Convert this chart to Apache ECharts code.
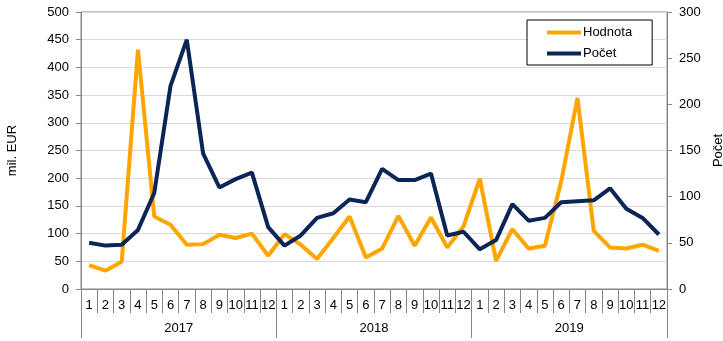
<!DOCTYPE html>
<html>
<head>
<meta charset="utf-8">
<script src="https://cdn.jsdelivr.net/npm/echarts@6/dist/echarts.min.js"></script>
<style>
html,body{margin:0;padding:0;background:#fff;}
#chart{width:723px;height:341px;}
</style>
</head>
<body>
<div id="chart"></div>
<script>
const months = ['1','2','3','4','5','6','7','8','9','10','11','12','1','2','3','4','5','6','7','8','9','10','11','12','1','2','3','4','5','6','7','8','9','10','11','12'];
const years = ['2017','2018','2019'];
const hodnota = [43,33,49,432,131,116,80,81,98,92,100,60,
                 99,80,54,92,131,57,73,132,78,129,75,113,
                 199,51,108,73,78,194,345,105,75,73,80,69];
const pocet = [50,47,48,64,104,220,270,147,110,119,126,67,
               47,58,77,82,97,94,130,118,118,125,58,62,
               43,53,92,74,77,94,95,96,109,87,77,59];
const leftTicks = {min:0, max:500, interval:50};
const rightTicks = {min:0, max:300, interval:50};

const font = 'Liberation Sans, Arial, sans-serif';
const axisGray = '#868686';
const chart = echarts.init(document.getElementById('chart'));
chart.setOption({
  animation:false,
  textStyle:{fontFamily:font},
  grid:{left:81,right:56,top:12,bottom:52,show:true,borderColor:axisGray,borderWidth:1,
        containLabel:false,outerBoundsMode:'none'},
  legend:{
    orient:'vertical', left:527, top:20,
    padding:[6,20,5,20], itemGap:8, itemWidth:34, itemHeight:4,
    icon:'rect',
    borderColor:'#000', borderWidth:1, backgroundColor:'#fff',
    textStyle:{fontFamily:font,fontSize:13,color:'#000',padding:[0,0,0,-3]},
    data:['Hodnota','Počet']
  },
  xAxis:[
    {type:'category',data:months,position:'bottom',boundaryGap:true,
     axisLine:{show:true,lineStyle:{color:axisGray}},
     axisTick:{show:true,interval:0,length:24,lineStyle:{color:axisGray}},
     axisLabel:{interval:0,margin:10,fontSize:13,color:'#000',fontFamily:font}},
    {type:'category',data:years,position:'bottom',boundaryGap:true,
     axisLine:{show:true,lineStyle:{color:axisGray}},
     axisTick:{show:true,interval:0,length:49,lineStyle:{color:axisGray}},
     axisLabel:{interval:0,margin:33,fontSize:13,color:'#000',fontFamily:font}}
  ],
  yAxis:[
    {type:'value',position:'left',min:leftTicks.min,max:leftTicks.max,interval:leftTicks.interval,
     name:'mil. EUR',nameLocation:'middle',nameGap:62,nameRotate:90,
     nameTextStyle:{fontSize:13,color:'#000',fontFamily:font},
     axisLine:{show:true,lineStyle:{color:axisGray}},
     axisTick:{show:true,length:5,lineStyle:{color:axisGray}},
     axisLabel:{margin:12,fontSize:13,color:'#000',fontFamily:font},
     splitLine:{show:true,lineStyle:{color:'#d9d9d9',width:1}}},
    {type:'value',position:'right',min:rightTicks.min,max:rightTicks.max,interval:rightTicks.interval,
     name:'Počet',nameLocation:'middle',nameGap:40,nameRotate:90,
     nameTextStyle:{fontSize:13,color:'#000',fontFamily:font},
     axisLine:{show:true,lineStyle:{color:axisGray}},
     axisTick:{show:true,length:5,lineStyle:{color:axisGray}},
     axisLabel:{margin:12,fontSize:13,color:'#000',fontFamily:font},
     splitLine:{show:false}}
  ],
  series:[
    {name:'Hodnota',type:'line',xAxisIndex:0,yAxisIndex:0,data:hodnota,symbol:'none',
     lineStyle:{color:'#FFA500',width:4},itemStyle:{color:'#FFA500'},z:3},
    {name:'Počet',type:'line',xAxisIndex:0,yAxisIndex:1,data:pocet,symbol:'none',
     lineStyle:{color:'#0C2557',width:4},itemStyle:{color:'#0C2557'},z:4}
  ]
});
</script>
</body>
</html>
